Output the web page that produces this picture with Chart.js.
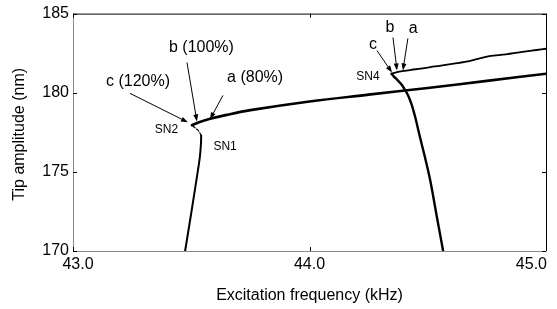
<!DOCTYPE html>
<html><head><meta charset="utf-8">
<script src="https://cdn.jsdelivr.net/npm/chart.js@4"></script>
<style>html,body{margin:0;padding:0;background:#fff}#w{width:557px;height:309px}</style>
</head><body><div id="w"><canvas id="c" width="557" height="309"></canvas></div>
<script>
// ---- data ----
const xTicks = [43.0, 44.0, 45.0];
const yTicks = [170, 175, 180, 185];
const xTitle = 'Excitation frequency (kHz)';
const yTitle = 'Tip amplitude (nm)';

const lowerLeftX = [43.474, 43.500, 43.522, 43.536, 43.541, 43.542];
const lowerLeftY = [170.0, 172.4, 174.5, 175.9, 176.8, 177.3];

const middleX = [43.542, 43.530, 43.515, 43.503];
const middleY = [177.3, 177.6, 177.8, 177.95];

const upperX = [43.503, 43.53, 43.58, 43.65, 43.75, 44.0, 44.25, 44.5, 44.75, 45.0];
const upperY = [177.95, 178.12, 178.35, 178.6, 178.9, 179.45, 179.88, 180.3, 180.75, 181.2];

const dropX = [44.565, 44.538, 44.510, 44.487, 44.467, 44.448, 44.433, 44.418, 44.405, 44.390, 44.372, 44.355, 44.347];
const dropY = [170.0, 172.2, 174.5, 176.0, 177.2, 178.4, 179.2, 179.8, 180.15, 180.5, 180.8, 181.05, 181.2];

const stairX = [44.347, 44.37, 44.40, 44.43, 44.47, 44.53, 44.61, 44.68, 44.76, 44.83, 44.90, 44.96, 45.0];
const stairY = [181.2, 181.3, 181.38, 181.45, 181.52, 181.66, 181.84, 182.02, 182.32, 182.42, 182.58, 182.70, 182.78];

// annotation texts with arrows (data coords)
const labels = [
  {t:'b (100%)', x:43.543, y:182.83, s:16},
  {t:'c (120%)', x:43.275, y:180.72, s:16},
  {t:'a (80%)',  x:43.770, y:180.97, s:16},
  {t:'SN2', x:43.395, y:177.69, s:12},
  {t:'SN1', x:43.643, y:176.56, s:12},
  {t:'SN4', x:44.247, y:181.03, s:12},
  {t:'c', x:44.268, y:183.05, s:16},
  {t:'b', x:44.340, y:184.10, s:16},
  {t:'a', x:44.438, y:184.05, s:16}
];
const arrows = [
  {x0:43.482, y0:181.91, x1:43.524, y1:178.19},
  {x0:43.241, y0:179.96, x1:43.486, y1:178.13},
  {x0:43.634, y0:179.83, x1:43.579, y1:178.32},
  {x0:44.285, y0:182.67, x1:44.349, y1:181.28},
  {x0:44.353, y0:183.49, x1:44.370, y1:181.41},
  {x0:44.416, y0:183.43, x1:44.395, y1:181.41}
];

function pts(xs, ys){ return xs.map((x,i)=>({x:x, y:ys[i]})); }

const FONT = '"Liberation Sans", Arial, Helvetica, sans-serif';

const decor = {
  id:'decor',
  afterDatasetsDraw(chart){
    const ctx = chart.ctx, xs = chart.scales.x, ys = chart.scales.y, a = chart.chartArea;
    ctx.save();
    // arrows
    ctx.strokeStyle = '#000'; ctx.fillStyle = '#000'; ctx.lineWidth = 1;
    arrows.forEach(r=>{
      const x0 = xs.getPixelForValue(r.x0), y0 = ys.getPixelForValue(r.y0);
      const x1 = xs.getPixelForValue(r.x1), y1 = ys.getPixelForValue(r.y1);
      const ang = Math.atan2(y1-y0, x1-x0), L = 7, W = 2.5;
      ctx.beginPath(); ctx.moveTo(x0,y0); ctx.lineTo(x1 - Math.cos(ang)*L*0.6, y1 - Math.sin(ang)*L*0.6); ctx.stroke();
      ctx.beginPath();
      ctx.moveTo(x1,y1);
      ctx.lineTo(x1 - Math.cos(ang)*L - Math.sin(ang)*W, y1 - Math.sin(ang)*L + Math.cos(ang)*W);
      ctx.lineTo(x1 - Math.cos(ang)*L + Math.sin(ang)*W, y1 - Math.sin(ang)*L - Math.cos(ang)*W);
      ctx.closePath(); ctx.fill();
    });
    // labels
    ctx.textAlign = 'center'; ctx.textBaseline = 'middle';
    labels.forEach(l=>{
      ctx.font = l.s + 'px ' + FONT;
      ctx.fillText(l.t, xs.getPixelForValue(l.x), ys.getPixelForValue(l.y));
    });
    // x tick labels (MATLAB-like: last one kept inside the figure)
    ctx.font = '16px ' + FONT;
    ctx.textBaseline = 'middle';
    xTicks.forEach((v,i)=>{
      const px = xs.getPixelForValue(v);
      const txt = v.toFixed(1);
      if (i === xTicks.length-1) { ctx.textAlign = 'right'; ctx.fillText(txt, px+1, a.bottom+14); }
      else if (i === 0) { ctx.textAlign = 'center'; ctx.fillText(txt, px+5, a.bottom+14); }
      else { ctx.textAlign = 'center'; ctx.fillText(txt, px, a.bottom+14); }
    });
    // axis titles
    ctx.textAlign = 'center';
    ctx.fillText(xTitle, (a.left+a.right)/2, a.bottom+45);
    ctx.save();
    ctx.translate(20, (a.top+a.bottom)/2 + 2);
    ctx.rotate(-Math.PI/2);
    ctx.fillText(yTitle, 0, 0);
    ctx.restore();
    // frame
    ctx.lineWidth = 1;
    ctx.strokeStyle = '#000';
    ctx.beginPath();
    ctx.moveTo(a.left, a.top+0.5); ctx.lineTo(a.right+0.5, a.top+0.5); ctx.lineTo(a.right+0.5, a.bottom);
    ctx.stroke();
    ctx.strokeStyle = '#8a8a8a';
    ctx.beginPath();
    ctx.moveTo(a.left+0.5, a.top); ctx.lineTo(a.left+0.5, a.bottom+0.5); ctx.lineTo(a.right+0.5, a.bottom+0.5);
    ctx.stroke();
    // inward ticks
    ctx.strokeStyle = '#000';
    ctx.beginPath();
    yTicks.forEach(v=>{
      const y = Math.round(ys.getPixelForValue(v)) + 0.5;
      ctx.moveTo(a.left, y); ctx.lineTo(a.left+4, y);
      ctx.moveTo(a.right, y); ctx.lineTo(a.right-4, y);
    });
    xTicks.forEach(v=>{
      const x = Math.round(xs.getPixelForValue(v)) + 0.5;
      ctx.moveTo(x, a.bottom); ctx.lineTo(x, a.bottom-4);
      ctx.moveTo(x, a.top); ctx.lineTo(x, a.top+4);
    });
    ctx.stroke();
    ctx.restore();
  }
};

const lineDs = (data, w, dash) => ({data, showLine:true, borderColor:'#000', borderWidth:w, pointRadius:0, tension:0.35, fill:false, borderDash: dash || [], borderCapStyle:'round'});

new Chart(document.getElementById('c'), {
  type:'scatter',
  data:{datasets:[
    lineDs(pts(lowerLeftX, lowerLeftY), 2),
    lineDs(pts(middleX, middleY), 1.2, [3,2]),
    lineDs(pts(upperX, upperY), 2.6),
    lineDs(pts(dropX, dropY), 2.4),
    lineDs(pts(stairX, stairY), 1.8)
  ]},
  options:{
    responsive:false, animation:false, devicePixelRatio:1,
    layout:{padding:{top:13, right:11, left:0, bottom:0}},
    plugins:{legend:{display:false}, tooltip:{enabled:false}},
    scales:{
      x:{type:'linear', min:43, max:45,
        afterBuildTicks(s){ s.ticks = xTicks.map(v=>({value:v})); },
        afterFit(s){ s.height = 58; },
        grid:{display:false, drawTicks:false}, border:{display:false},
        ticks:{display:false}
      },
      y:{type:'linear', min:170, max:185,
        afterBuildTicks(s){ s.ticks = yTicks.map(v=>({value:v})); },
        afterFit(s){ s.width = 73; },
        grid:{display:false, drawTicks:false}, border:{display:false},
        ticks:{padding:4, color:'#000', font:{family:FONT, size:16}, callback:v=>String(v)}
      }
    }
  },
  plugins:[decor]
});
</script>
</body></html>
